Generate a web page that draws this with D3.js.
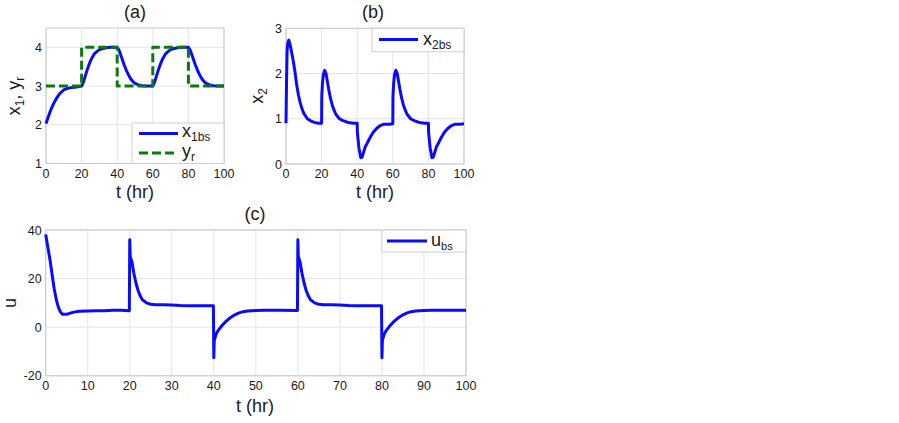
<!DOCTYPE html>
<html>
<head>
<meta charset="utf-8">
<title>backstepping response</title>
<script src="https://cdn.jsdelivr.net/npm/d3@7"></script>
<style>
  body { margin: 0; background: #fff; }
  svg { display: block; font-family: "Liberation Sans", Arial, sans-serif; }
  .grid line { stroke: #e4e4e4; stroke-width: 1; }
  .frame { fill: none; stroke: #c8c8c8; stroke-width: 1; }
  .tick { font-size: 12.5px; fill: #1a1a1a; }
  .lab { font-size: 18px; fill: #1a1a1a; }
  .legt { font-size: 18px; fill: #1a1a1a; }
  .leg { fill: #fff; stroke: #cfcfcf; stroke-width: 1; }
</style>
</head>
<body>
<svg width="899" height="423"></svg>
<script>
// ---- data ----
// (a) x1bs
var x1T = [0,1,2,3,4,5,6,7,8,10,12,14,16,18,20,
           21,22,23,24,25,26,27,28,30,32,34,36,38,40,
           41,42,43,44,45,46,47,48,49,50,52,54,56,58,60,
           61,62,63,64,65,66,67,68,70,72,74,76,78,80,
           81,82,83,84,85,86,87,88,89,90,92,94,96,98,100];
var x1V = [2.03,2.17,2.3,2.42,2.52,2.61,2.69,2.76,2.82,2.9,2.94,2.96,2.97,2.98,3.0,
           3.1,3.25,3.4,3.53,3.65,3.74,3.82,3.87,3.94,3.97,3.99,4.0,4.0,4.0,
           3.93,3.8,3.67,3.54,3.42,3.32,3.23,3.16,3.11,3.07,3.03,3.01,3.0,3.0,3.0,
           3.1,3.25,3.4,3.53,3.65,3.74,3.82,3.87,3.94,3.97,3.99,4.0,4.0,4.0,
           3.93,3.8,3.67,3.54,3.42,3.32,3.23,3.16,3.11,3.07,3.03,3.01,3.0,3.0,3.0];
// (a) reference yr
var yrT = [0,20,20,40,40,60,60,80,80,100];
var yrV = [3,3,4,4,3,3,4,4,3,3];

// (b) x2bs
var x2T = [0,0.3,0.6,1,1.6,2.2,3,4,5,6,7,8,9,10,12,14,16,18,20,
           20.1,20.5,21,21.7,22.5,23,24,25,26,27,28,30,32,34,36,38,40,
           40.1,41,42,42.7,43.5,44.5,45.5,46.5,47.5,49,51,53,55,58,60,
           60.1,60.5,61,61.7,62.5,63,64,65,66,67,68,70,72,74,76,78,80,
           80.1,81,82,82.7,83.5,84.5,85.5,86.5,87.5,89,91,93,95,98,100];
var x2V = [0.9,1.8,2.5,2.68,2.74,2.65,2.5,2.3,2.05,1.75,1.52,1.35,1.22,1.12,1.0,0.95,0.92,0.9,0.9,
           1.5,1.8,1.98,2.07,2.0,1.88,1.65,1.45,1.3,1.19,1.1,1.0,0.96,0.93,0.91,0.9,0.9,
           0.7,0.35,0.14,0.15,0.25,0.38,0.45,0.53,0.6,0.7,0.79,0.85,0.88,0.88,0.89,
           1.5,1.8,1.98,2.07,2.0,1.88,1.65,1.45,1.3,1.19,1.1,1.0,0.96,0.93,0.91,0.9,0.9,
           0.7,0.35,0.14,0.15,0.25,0.38,0.45,0.53,0.6,0.7,0.79,0.85,0.88,0.88,0.89];

// (c) ubs
var uT = [0,0.5,1,1.5,2,2.5,3,3.5,4,5,6,7,8,10,12,14,16,18,19.9,
          20,20.1,20.5,21,21.5,22,22.5,23,24,25,26,28,30,32,34,36,38,39.9,
          40,40.1,40.5,41,42,43,44,45,46,47,48,50,52,56,59.9,
          60,60.1,60.5,61,61.5,62,62.5,63,64,65,66,68,70,72,74,76,78,79.9,
          80,80.1,80.5,81,82,83,84,85,86,87,88,90,92,96,100];
var uV = [38.2,33,28,22,16,11.5,8.3,6.3,5.3,5.3,5.9,6.3,6.6,6.7,6.8,6.8,7.0,7.0,6.8,
          36,29,27,22,18,15,12.8,11.3,10,9.4,9.2,9.2,9.1,8.9,8.8,8.8,8.8,8.8,
          -12.6,-5.5,-3,-1.4,0.8,2.6,4,5.1,5.9,6.4,6.7,6.9,7.0,7.0,6.9,
          36,29,27,22,18,15,12.8,11.3,10,9.4,9.2,9.2,9.1,8.9,8.8,8.8,8.8,8.8,
          -12.6,-5.5,-3,-1.4,0.8,2.6,4,5.1,5.9,6.4,6.7,6.9,7.0,7.0,7.0];

var xTicksAB = [0,20,40,60,80,100];
var xTicksC = [0,10,20,30,40,50,60,70,80,90,100];
var yTicksA = [1,2,3,4];
var yTicksB = [0,1,2,3];
var yTicksC = [-20,0,20,40];

var blue = "#0a0aff", green = "#0b7a0b";
var svg = d3.select("svg");

function zip(t, v) { return t.map(function(d, i) { return [d, v[i]]; }); }

function panel(box, ydom, xt, yt) {
  var x = d3.scaleLinear().domain([0, 100]).range([box.l, box.r]);
  var y = d3.scaleLinear().domain(ydom).range([box.b, box.t]);
  var g = svg.append("g");
  var grid = g.append("g").attr("class", "grid");
  grid.selectAll(".gx").data(xt).enter().append("line")
      .attr("x1", x).attr("x2", x).attr("y1", box.t).attr("y2", box.b);
  grid.selectAll(".gy").data(yt).enter().append("line")
      .attr("y1", y).attr("y2", y).attr("x1", box.l).attr("x2", box.r);
  g.append("rect").attr("class", "frame")
      .attr("x", box.l).attr("y", box.t)
      .attr("width", box.r - box.l).attr("height", box.b - box.t);
  g.selectAll(".xt").data(xt).enter().append("text").attr("class", "tick")
      .attr("x", x).attr("y", box.b + 14).attr("text-anchor", "middle").text(function(d) { return d; });
  g.selectAll(".yt").data(yt).enter().append("text").attr("class", "tick")
      .attr("x", box.l - 4).attr("y", y).attr("dy", "0.36em").attr("text-anchor", "end").text(function(d) { return d; });
  var line = d3.line().x(function(d) { return x(d[0]); }).y(function(d) { return y(d[1]); });
  return { x: x, y: y, g: g, line: line };
}

function drawLine(p, data, color, dash) {
  p.g.append("path").datum(data).attr("d", p.line)
     .attr("fill", "none").attr("stroke", color).attr("stroke-width", 3)
     .attr("stroke-linejoin", "round")
     .attr("stroke-dasharray", dash || null);
}

function subText(sel, parts, subSize) {
  // parts: [text, isSub, dy]
  parts.forEach(function(p) {
    if (p[1]) sel.append("tspan").attr("font-size", subSize || "12px").attr("dy", "4").text(p[0]);
    else sel.append("tspan").attr("dy", p[2] || 0).text(p[0]);
  });
}

// ---- (a) ----
var pa = panel({l: 46, r: 224, t: 28, b: 163.5}, [1, 4.5], xTicksAB, yTicksA);
drawLine(pa, zip(x1T, x1V), blue);
drawLine(pa, zip(yrT, yrV), green, "9,4");
svg.append("text").attr("class", "lab").attr("x", 135).attr("y", 18).attr("text-anchor", "middle").text("(a)");
svg.append("text").attr("class", "lab").attr("x", 135).attr("y", 198).attr("text-anchor", "middle").text("t (hr)");
var ya = svg.append("text").attr("class", "lab").attr("text-anchor", "middle")
  .attr("transform", "translate(20,96) rotate(-90)");
subText(ya, [["x"], ["1", true], [", y", false, -4], ["r", true]]);
// legend (a)
pa.g.append("rect").attr("class", "leg").attr("x", 132).attr("y", 123).attr("width", 92).attr("height", 40.5);
pa.g.append("line").attr("x1", 139).attr("x2", 178).attr("y1", 133.5).attr("y2", 133.5)
  .attr("stroke", blue).attr("stroke-width", 3);
pa.g.append("line").attr("x1", 139).attr("x2", 178).attr("y1", 153).attr("y2", 153)
  .attr("stroke", green).attr("stroke-width", 3).attr("stroke-dasharray", "9,4");
var la1 = pa.g.append("text").attr("class", "legt").attr("x", 182).attr("y", 137);
subText(la1, [["x"], ["1bs", true]]);
var la2 = pa.g.append("text").attr("class", "legt").attr("x", 182).attr("y", 157);
subText(la2, [["y"], ["r", true]]);

// ---- (b) ----
var pb = panel({l: 286, r: 464, t: 28.3, b: 164}, [0, 3], xTicksAB, yTicksB);
drawLine(pb, zip(x2T, x2V), blue);
svg.append("text").attr("class", "lab").attr("x", 373).attr("y", 18).attr("text-anchor", "middle").text("(b)");
svg.append("text").attr("class", "lab").attr("x", 375).attr("y", 198).attr("text-anchor", "middle").text("t (hr)");
var yb = svg.append("text").attr("class", "lab").attr("text-anchor", "middle")
  .attr("transform", "translate(263,96) rotate(-90)");
subText(yb, [["x"], ["2", true]]);
pb.g.append("rect").attr("class", "leg").attr("x", 372).attr("y", 28.3).attr("width", 92).attr("height", 23.5);
pb.g.append("line").attr("x1", 379).attr("x2", 418).attr("y1", 39.5).attr("y2", 39.5)
  .attr("stroke", blue).attr("stroke-width", 3);
var lb = pb.g.append("text").attr("class", "legt").attr("x", 423).attr("y", 45);
subText(lb, [["x"], ["2bs", true]]);

// ---- (c) ----
var pc = panel({l: 45.7, r: 466, t: 230, b: 375.8}, [-20, 40], xTicksC, yTicksC);
drawLine(pc, zip(uT, uV), blue);
svg.append("text").attr("class", "lab").attr("x", 255).attr("y", 220).attr("text-anchor", "middle").text("(c)");
svg.append("text").attr("class", "lab").attr("x", 255).attr("y", 412).attr("text-anchor", "middle").text("t (hr)");
svg.append("text").attr("class", "lab").attr("text-anchor", "middle")
  .attr("transform", "translate(16,303) rotate(-90)").text("u");
pc.g.append("rect").attr("class", "leg").attr("x", 382).attr("y", 230).attr("width", 84).attr("height", 22);
pc.g.append("line").attr("x1", 387).attr("x2", 427).attr("y1", 241).attr("y2", 241)
  .attr("stroke", blue).attr("stroke-width", 3);
var lc = pc.g.append("text").attr("class", "legt").attr("x", 431).attr("y", 246);
subText(lc, [["u"], ["bs", true]], "11px");
</script>
</body>
</html>
